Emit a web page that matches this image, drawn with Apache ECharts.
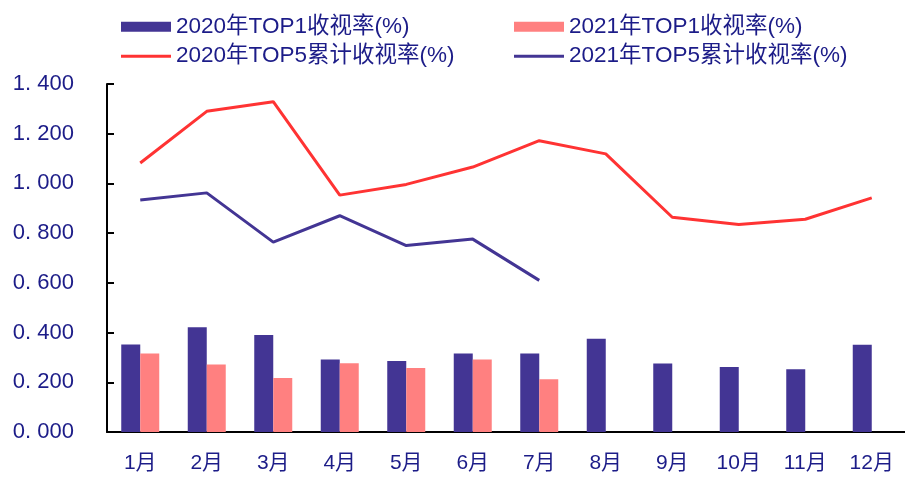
<!DOCTYPE html>
<html>
<head>
<meta charset="utf-8">
<script src="https://cdn.jsdelivr.net/npm/echarts@6/dist/echarts.min.js"></script>
<style>html,body{margin:0;padding:0;background:#fff;}#c{width:905px;height:479px;}</style>
</head>
<body>
<div id="c"></div>
<script>
var categories = ['1月','2月','3月','4月','5月','6月','7月','8月','9月','10月','11月','12月'];
var top1_2020 = [0.352, 0.421, 0.390, 0.292, 0.286, 0.316, 0.316, 0.375, 0.276, 0.261, 0.252, 0.351];
var top1_2021 = [0.316, 0.272, 0.217, 0.277, 0.257, 0.292, 0.212, null, null, null, null, null];
var top5_2020 = [1.082, 1.290, 1.329, 0.953, 0.996, 1.066, 1.172, 1.119, 0.864, 0.835, 0.856, 0.942];
var top5_2021 = [0.933, 0.962, 0.764, 0.870, 0.750, 0.776, 0.610, null, null, null, null, null];
var seriesNames = ['2020年TOP1收视率(%)', '2021年TOP1收视率(%)', '2020年TOP5累计收视率(%)', '2021年TOP5累计收视率(%)'];

var FONT = '"Liberation Sans","Noto Sans CJK SC",sans-serif';
var TXT = '#1c1c88';
var chart = echarts.init(document.getElementById('c'), null, {renderer: 'canvas'});
function leg(name, left, top, h) {
  return {orient: 'vertical', left: left, top: top, itemWidth: 50, itemHeight: h, icon: 'rect',
    textStyle: {color: TXT, fontSize: 22.5, fontFamily: FONT, lineHeight: 22}, data: [name]};
}
chart.setOption({
  animation: false,
  legend: [
    leg(seriesNames[0], 116, 10.5, 10),
    leg(seriesNames[2], 116, 40, 3),
    leg(seriesNames[1], 509, 10.5, 10),
    leg(seriesNames[3], 509, 40, 3)
  ],
  grid: {left: 107, top: 84, width: 804, height: 348},
  xAxis: {
    type: 'category', data: categories,
    axisLine: {lineStyle: {color: '#000', width: 2}},
    axisTick: {inside: true, length: 6, lineStyle: {color: '#000', width: 2}},
    axisLabel: {color: TXT, fontSize: 21, fontFamily: FONT, margin: 21}
  },
  yAxis: {
    type: 'value', min: 0, max: 1.4, interval: 0.2,
    axisLine: {show: true, lineStyle: {color: '#000', width: 2}},
    axisTick: {show: true, inside: true, length: 7, lineStyle: {color: '#000', width: 2}},
    splitLine: {show: false},
    axisLabel: {color: TXT, fontSize: 22, fontFamily: FONT, margin: 33,
      formatter: function (v) { return v.toFixed(3).replace('.', '. '); }}
  },
  series: [
    {name: seriesNames[0], type: 'bar', data: top1_2020, barWidth: 19, barGap: '0%',
     itemStyle: {color: '#433594'}},
    {name: seriesNames[1], type: 'bar', data: top1_2021, barWidth: 19, barGap: '0%',
     itemStyle: {color: '#ff8080'}},
    {name: seriesNames[2], type: 'line', data: top5_2020, symbol: 'none',
     lineStyle: {color: '#ff3333', width: 3}, itemStyle: {color: '#ff3333'}},
    {name: seriesNames[3], type: 'line', data: top5_2021, symbol: 'none',
     lineStyle: {color: '#433594', width: 3}, itemStyle: {color: '#433594'}}
  ]
});
</script>
</body>
</html>
